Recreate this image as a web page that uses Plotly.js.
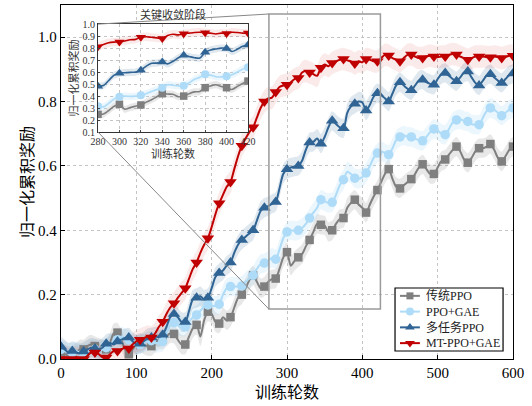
<!DOCTYPE html>
<html><head><meta charset="utf-8">
<script src="https://cdn.plot.ly/plotly-3.0.1.min.js"></script>
<style>html,body{margin:0;padding:0;background:#fff;}#chart{width:532px;height:406px;}</style>
</head><body><div id="chart"></div>
<script>
// ---------- data ----------
const epochs = [0,5,10,15,20,25,30,35,40,45,50,55,
  60,65,70,75,80,85,90,95,100,105,110,115,
  120,125,130,135,140,145,150,155,160,165,170,175,
  180,185,190,195,200,205,210,215,220,225,230,235,
  240,245,250,255,260,265,270,275,280,285,290,295,
  300,305,310,315,320,325,330,335,340,345,350,355,
  360,365,370,375,380,385,390,395,400,405,410,415,
  420,425,430,435,440,445,450,455,460,465,470,475,
  480,485,490,495,500,505,510,515,520,525,530,535,
  540,545,550,555,560,565,570,575,580,585,590,595,600];

const ppo = [0.020,0.015,0.010,0.010,0.020,0.030,0.030,0.040,0.045,0.040,0.035,0.030,
  0.030,0.050,0.080,0.082,0.060,0.030,0.015,0.030,0.045,0.050,0.045,0.040,
  0.040,0.050,0.060,0.060,0.070,0.080,0.078,0.060,0.045,0.045,0.070,0.095,
  0.106,0.070,0.120,0.147,0.140,0.115,0.110,0.130,0.120,0.130,0.160,0.190,
  0.200,0.220,0.245,0.260,0.240,0.220,0.225,0.240,0.248,0.250,0.280,0.315,
  0.332,0.290,0.305,0.316,0.326,0.350,0.370,0.395,0.420,0.417,0.415,0.395,
  0.400,0.420,0.435,0.438,0.470,0.485,0.495,0.480,0.470,0.455,0.480,0.505,
  0.525,0.550,0.575,0.590,0.560,0.535,0.530,0.540,0.550,0.559,0.575,0.595,
  0.605,0.590,0.575,0.575,0.595,0.615,0.620,0.635,0.650,0.660,0.645,0.620,
  0.610,0.625,0.645,0.655,0.655,0.660,0.668,0.650,0.625,0.614,0.630,0.650,0.660];

const ppoGae = [0.030,0.025,0.020,0.020,0.025,0.020,0.015,0.020,0.030,0.030,0.025,0.030,
  0.035,0.045,0.055,0.060,0.070,0.065,0.060,0.050,0.042,0.045,0.050,0.055,
  0.057,0.050,0.050,0.054,0.080,0.105,0.113,0.105,0.100,0.100,0.115,0.130,
  0.137,0.150,0.162,0.168,0.165,0.165,0.170,0.200,0.220,0.225,0.225,0.225,
  0.227,0.240,0.250,0.260,0.280,0.295,0.298,0.305,0.315,0.310,0.340,0.375,
  0.395,0.400,0.398,0.400,0.407,0.420,0.438,0.455,0.470,0.495,0.490,0.485,
  0.487,0.510,0.540,0.557,0.582,0.575,0.562,0.560,0.565,0.578,0.600,0.625,
  0.640,0.645,0.640,0.635,0.655,0.680,0.690,0.695,0.690,0.690,0.685,0.680,
  0.678,0.690,0.705,0.715,0.710,0.700,0.697,0.715,0.735,0.743,0.745,0.740,
  0.738,0.730,0.728,0.728,0.750,0.770,0.780,0.775,0.765,0.756,0.765,0.775,0.780];

const multiTask = [0.038,0.030,0.020,0.025,0.020,0.018,0.023,0.030,0.035,0.033,0.030,0.035,
  0.047,0.050,0.045,0.054,0.060,0.065,0.067,0.055,0.045,0.047,0.055,0.065,
  0.067,0.070,0.068,0.075,0.100,0.130,0.140,0.130,0.115,0.115,0.150,0.185,
  0.190,0.195,0.185,0.190,0.220,0.255,0.267,0.275,0.290,0.300,0.330,0.355,
  0.370,0.380,0.390,0.400,0.430,0.460,0.470,0.475,0.482,0.488,0.530,0.575,
  0.590,0.595,0.598,0.600,0.616,0.650,0.673,0.675,0.685,0.669,0.690,0.720,
  0.740,0.730,0.720,0.717,0.765,0.785,0.793,0.800,0.797,0.772,0.790,0.815,
  0.826,0.820,0.810,0.800,0.825,0.850,0.860,0.850,0.840,0.835,0.850,0.865,
  0.868,0.860,0.855,0.852,0.870,0.885,0.889,0.880,0.870,0.863,0.875,0.890,
  0.893,0.875,0.858,0.850,0.865,0.880,0.885,0.875,0.865,0.858,0.870,0.882,0.887];

const mtPpoGae = [0.000,0.005,0.000,0.000,0.005,0.000,0.000,0.010,0.020,0.020,0.015,0.005,
  0.005,0.015,0.025,0.025,0.030,0.035,0.033,0.045,0.055,0.060,0.065,0.070,
  0.067,0.080,0.100,0.116,0.140,0.160,0.173,0.190,0.205,0.220,0.250,0.280,
  0.300,0.330,0.355,0.375,0.410,0.450,0.484,0.510,0.535,0.550,0.590,0.630,
  0.663,0.685,0.705,0.720,0.750,0.780,0.800,0.810,0.812,0.830,0.845,0.850,
  0.852,0.860,0.870,0.873,0.890,0.895,0.890,0.885,0.880,0.905,0.915,0.910,
  0.920,0.925,0.930,0.932,0.928,0.925,0.918,0.925,0.922,0.932,0.930,0.925,
  0.925,0.935,0.945,0.943,0.935,0.930,0.925,0.935,0.945,0.946,0.940,0.935,
  0.935,0.940,0.942,0.940,0.938,0.940,0.940,0.945,0.948,0.946,0.940,0.935,
  0.930,0.935,0.940,0.940,0.940,0.938,0.938,0.940,0.938,0.935,0.938,0.942,0.942];

const seriesNames = ['传统PPO', 'PPO+GAE', '多任务PPO', 'MT-PPO+GAE'];
const bandHalf = [0.03, 0.03, 0.03, 0.035];
const xTicks = [0,100,200,300,400,500,600];
const yTicks = [0,0.2,0.4,0.6,0.8,1.0];
const insetXTicks = [280,300,320,340,360,380,400,420];
const insetYTicks = [0.1,0.2,0.3,0.4,0.5,0.6,0.7,0.8,0.9,1.0];

// ---------- styles ----------
const serif = '"Liberation Serif", "Times New Roman", "Noto Sans CJK SC", serif';
const styles = [
  {color:'#7f7f7f', band:'rgba(140,140,140,0.2)', symbol:'square', size:8.5, isize:7.5, lsize:7},
  {color:'#aedcf8', band:'rgba(174,220,248,0.25)', symbol:'circle', size:9.5, isize:8, lsize:8},
  {color:'#2f6494', band:'rgba(47,100,148,0.15)', symbol:'triangle-up', size:11, isize:9, lsize:8.5},
  {color:'#c00000', band:'rgba(215,50,50,0.1)', symbol:'triangle-down', size:11, isize:9, lsize:8.5}
];
const allSeries = [ppo, ppoGae, multiTask, mtPpoGae];

const traces = [];
function addSet(xa, ya, markFilter, sizeKey){
  allSeries.forEach((ys, k) => {
    const st = styles[k];
    traces.push({x: epochs, y: ys.map(v => v - bandHalf[k]), xaxis: xa, yaxis: ya, mode:'lines',
      line:{width:0, shape:'spline', smoothing:0.8}, hoverinfo:'skip'});
    traces.push({x: epochs, y: ys.map(v => v + bandHalf[k]), xaxis: xa, yaxis: ya, mode:'lines',
      fill:'tonexty', fillcolor: st.band, line:{width:0, shape:'spline', smoothing:0.8}, hoverinfo:'skip'});
  });
  allSeries.forEach((ys, k) => {
    const st = styles[k];
    traces.push({x: epochs, y: ys, xaxis: xa, yaxis: ya, mode:'lines', name: seriesNames[k],
      line:{color: st.color, width: xa === 'x' ? 2 : 1.6, shape:'spline', smoothing:0.8}});
    const mx = [], my = [];
    epochs.forEach((e, i) => { if (markFilter(e)) { mx.push(e); my.push(ys[i]); } });
    traces.push({x: mx, y: my, xaxis: xa, yaxis: ya, mode:'markers', name: seriesNames[k],
      marker:{symbol: st.symbol, size: st[sizeKey], color: st.color, line:{width:0}}});
  });
}
addSet('x', 'y', e => e % 15 === 0, 'size');
addSet('x2', 'y2', e => e >= 280 && e <= 420 && e % 20 === 0, 'isize');

// ---------- legend (drawn as a small keyed panel) ----------
const legendRows = [0.5, 1.5, 2.5, 3.5];
const legendLineX = [0.046, 0.23], legendMarkX = 0.138, legendTextX = 0.27;
seriesNames.forEach((nm, k) => {
  const st = styles[k];
  traces.push({x: legendLineX, y: [legendRows[k], legendRows[k]], xaxis:'x3', yaxis:'y3', mode:'lines',
    line:{color: st.color, width:2}, hoverinfo:'skip'});
  traces.push({x: [legendMarkX], y: [legendRows[k]], xaxis:'x3', yaxis:'y3', mode:'markers',
    marker:{symbol: st.symbol, size: st.lsize, color: st.color}, hoverinfo:'skip'});
});
const legendAnn = seriesNames.map((nm, k) => ({text: nm, xref:'x3', yref:'y3', x: legendTextX, y: legendRows[k],
  xanchor:'left', yanchor:'middle', showarrow:false, font:{size:12, color:'#222'}}));

// inset & zoom box geometry
const xRange = [0, 600], yRange = [0, 1.1];
const insetDomX = [0.0819, 0.4137], insetDomY = [0.641, 0.946];
const legendDomX = [0.739, 0.978], legendDomY = [0.0226, 0.2006];
const boxX = [276, 424], boxY = [0.155, 1.072];
const px = v => (v - xRange[0]) / (xRange[1] - xRange[0]);
const py = v => (v - yRange[0]) / (yRange[1] - yRange[0]);

const grid = {showgrid:true, gridcolor:'#c4c4c4', griddash:'3px,3px', gridwidth:1, zeroline:false};
const hidden = {showgrid:false, zeroline:false, showline:false, showticklabels:false, ticks:'', fixedrange:true};
const layout = {
  width:532, height:406,
  margin:{l:61, r:19, t:5, b:47},
  paper_bgcolor:'#ffffff', plot_bgcolor:'#ffffff',
  font:{family: serif, size:15, color:'#000'},
  showlegend:false,
  xaxis: Object.assign({range:xRange, domain:[0,1], tickvals:xTicks, ticks:'inside', ticklen:4, tickcolor:'#000',
    showline:true, mirror:true, linecolor:'#000', linewidth:1.2,
    title:{text:'训练轮数', font:{size:16}, standoff:6}}, grid),
  yaxis: Object.assign({range:yRange, domain:[0,1], tickvals:yTicks, tickformat:'.1f', ticks:'inside', ticklen:4, tickcolor:'#000',
    showline:true, mirror:true, linecolor:'#000', linewidth:1.2,
    title:{text:'归一化累积奖励', font:{size:16}, standoff:0}}, grid),
  xaxis2: Object.assign({domain:insetDomX, anchor:'y2', range:[280,420], tickvals:insetXTicks, ticks:'inside', ticklen:2,
    showline:true, mirror:true, linecolor:'#333', linewidth:1, tickfont:{size:10, color:'#333'},
    title:{text:'训练轮数', font:{size:11, color:'#333'}, standoff:1}}, grid),
  yaxis2: Object.assign({domain:insetDomY, anchor:'x2', range:[0.1,1.0], tickvals:insetYTicks, tickformat:'.1f', ticks:'inside', ticklen:2,
    showline:true, mirror:true, linecolor:'#333', linewidth:1, tickfont:{size:10, color:'#333'},
    title:{text:'归一化累积奖励', font:{size:11, color:'#333'}, standoff:1}}, grid),
  xaxis3: Object.assign({domain:legendDomX, anchor:'y3', range:[0,1]}, hidden),
  yaxis3: Object.assign({domain:legendDomY, anchor:'x3', range:[4,0]}, hidden),
  shapes:[
    {type:'rect', xref:'x', yref:'y', x0:boxX[0], x1:boxX[1], y0:boxY[0], y1:boxY[1],
      line:{color:'#9a9a9a', width:1.5}, layer:'above'},
    {type:'line', xref:'paper', yref:'paper', x0:insetDomX[0], y0:insetDomY[1], x1:px(boxX[0]), y1:py(boxY[1]),
      line:{color:'#888', width:1}, layer:'above'},
    {type:'line', xref:'paper', yref:'paper', x0:insetDomX[0], y0:insetDomY[0], x1:px(boxX[0]), y1:py(boxY[0]),
      line:{color:'#888', width:1}, layer:'above'},
    {type:'rect', xref:'x3 domain', yref:'y3 domain', x0:0, x1:1, y0:0, y1:1,
      line:{color:'#000', width:1.2}, layer:'above'}
  ],
  annotations:[
    {text:'关键收敛阶段', xref:'paper', yref:'paper', x:(insetDomX[0]+insetDomX[1])/2, y:insetDomY[1]+0.003,
      xanchor:'center', yanchor:'bottom', showarrow:false, font:{size:11, color:'#333'}}
  ].concat(legendAnn)
};

Plotly.newPlot('chart', traces, layout, {displayModeBar:false, staticPlot:true});
</script>
</body></html>
